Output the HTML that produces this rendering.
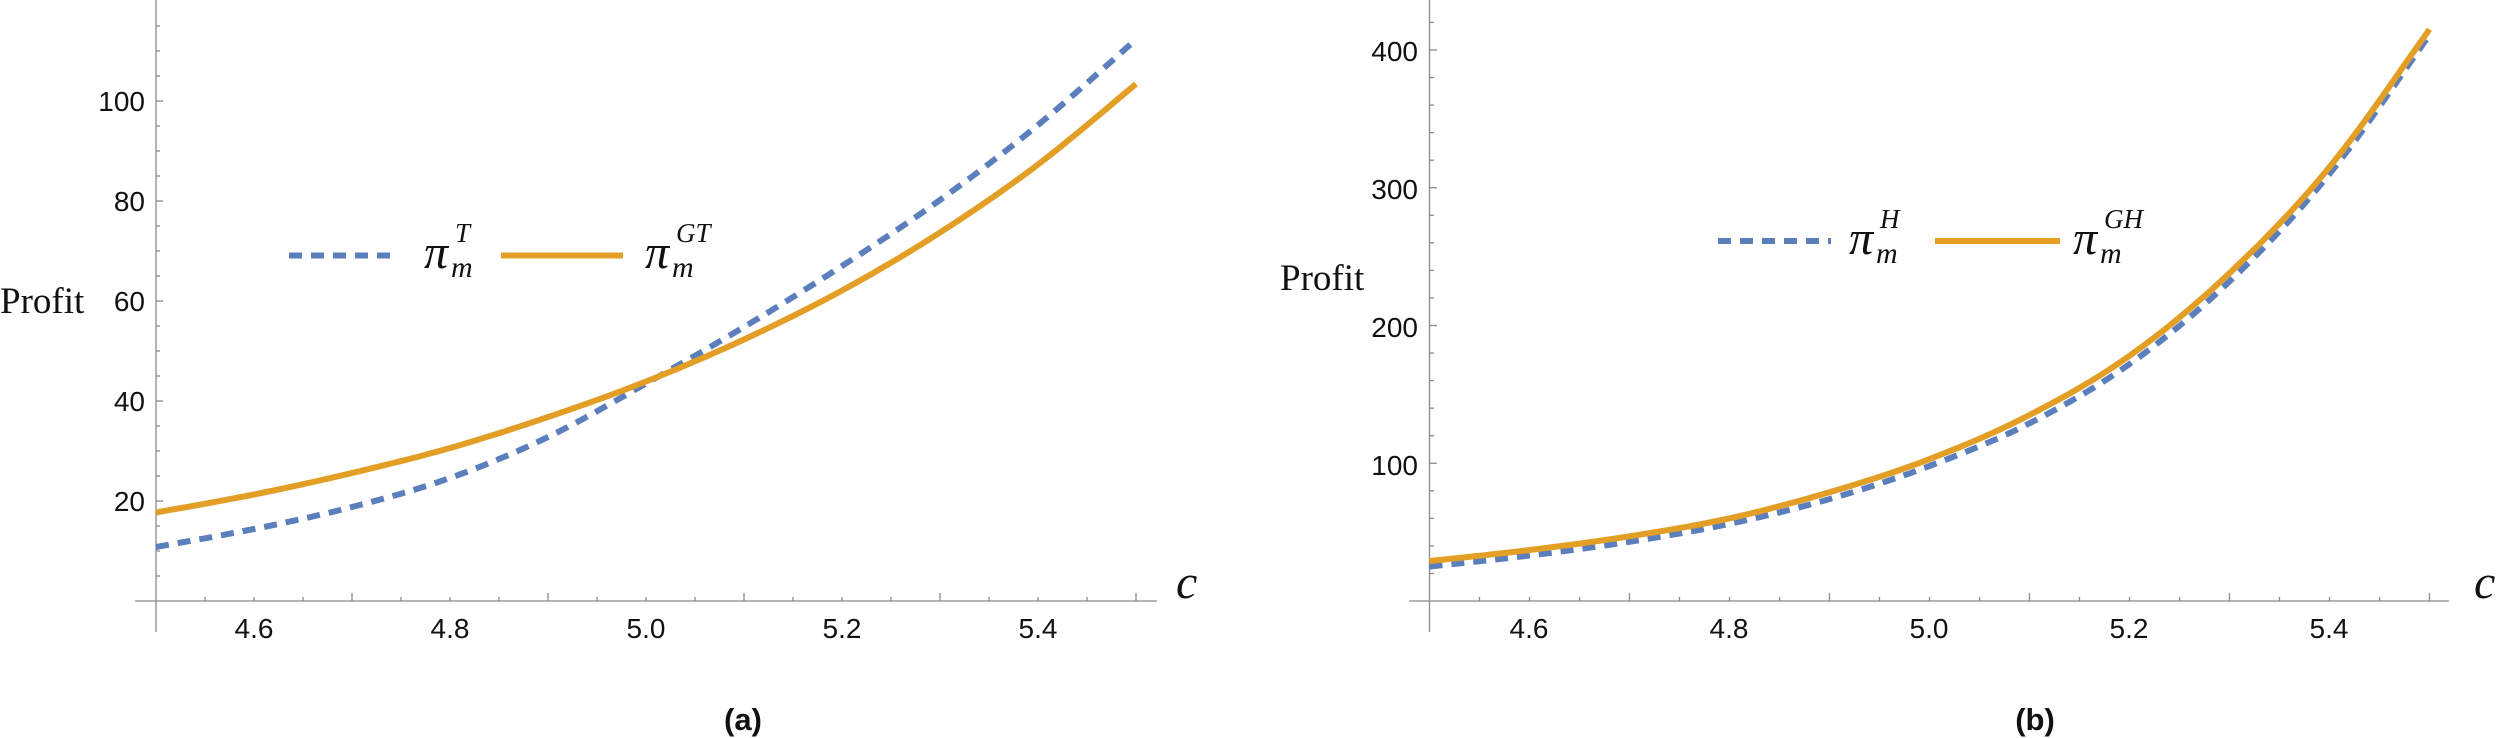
<!DOCTYPE html>
<html><head><meta charset="utf-8">
<style>
html,body{margin:0;padding:0;background:#fff;}
svg{display:block;}
.tk{font-family:"Liberation Sans",sans-serif;font-size:28px;fill:#111;}
.pf{font-family:"Liberation Serif",serif;font-size:37px;fill:#111;}
.pi{font-family:"Liberation Serif",serif;font-style:italic;fill:#111;}
.cap{font-family:"Liberation Sans",sans-serif;font-weight:bold;font-size:31px;fill:#111;}
</style></head>
<body>
<svg id="s" width="2500" height="738" viewBox="0 0 2500 738" xmlns="http://www.w3.org/2000/svg">
<g id="axes" stroke="#8a8a8a" stroke-width="1.3" fill="none"></g>
<g id="curves" fill="none"></g>
<g class="tk" text-anchor="end">
<text x="145" y="111">100</text><text x="145" y="211">80</text><text x="145" y="311">60</text>
<text x="145" y="411">40</text><text x="145" y="511">20</text>
<text x="1418" y="61">400</text><text x="1418" y="199">300</text><text x="1418" y="337">200</text>
<text x="1418" y="475">100</text>
</g>
<g class="tk" text-anchor="middle">
<text x="254" y="638">4.6</text><text x="450" y="638">4.8</text><text x="646" y="638">5.0</text>
<text x="842" y="638">5.2</text><text x="1038" y="638">5.4</text>
<text x="1529" y="638">4.6</text><text x="1729" y="638">4.8</text><text x="1929" y="638">5.0</text>
<text x="2129" y="638">5.2</text><text x="2329" y="638">5.4</text>
</g>
<text class="pf" x="0" y="313">Profit</text>
<text class="pf" x="1280" y="290">Profit</text>
<text class="pi" x="1176" y="598" font-size="48">c</text>
<text class="pi" x="2474" y="598" font-size="48">c</text>
<text class="cap" x="743" y="730" text-anchor="middle">(a)</text>
<text class="cap" x="2035" y="730" text-anchor="middle">(b)</text>
<line x1="289" y1="255.5" x2="398" y2="255.5" stroke="#5b7fbd" stroke-width="6" stroke-dasharray="13,9"/>
<line x1="501" y1="255.5" x2="623" y2="255.5" stroke="#e39e26" stroke-width="6"/>
<text class="pi" x="424" y="268" font-size="48">π</text>
<text class="pi" x="455" y="242" font-size="27">T</text>
<text class="pi" x="451" y="277" font-size="30">m</text>
<text class="pi" x="645" y="268" font-size="48">π</text>
<text class="pi" x="676" y="242" font-size="27">GT</text>
<text class="pi" x="672" y="277" font-size="30">m</text>
<line x1="1718" y1="241" x2="1831" y2="241" stroke="#5b7fbd" stroke-width="6" stroke-dasharray="13,9"/>
<line x1="1935" y1="241" x2="2060" y2="241" stroke="#e39e26" stroke-width="6"/>
<text class="pi" x="1849" y="254" font-size="48">π</text>
<text class="pi" x="1880" y="228" font-size="27">H</text>
<text class="pi" x="1876" y="263" font-size="30">m</text>
<text class="pi" x="2073" y="254" font-size="48">π</text>
<text class="pi" x="2104" y="228" font-size="27">GH</text>
<text class="pi" x="2100" y="263" font-size="30">m</text>
</svg>
<script>
(function(){
var NS="http://www.w3.org/2000/svg";
var ax=document.getElementById('axes'), cv=document.getElementById('curves');
function L(x1,y1,x2,y2){var l=document.createElementNS(NS,'line');l.setAttribute('x1',x1);l.setAttribute('y1',y1);l.setAttribute('x2',x2);l.setAttribute('y2',y2);ax.appendChild(l);}
L(156,0,156,632); L(135,601,1157,601);
for(var v=5;v<=115;v+=5){var y=601-5*v;L(156,y,v%20==0?163:160,y);}
for(var i=1;i<=20;i++){var x=156+49*i;L(x,601,x,(i%4==0)?593:597);}
L(1429.5,0,1429.5,632); L(1409,601,2449,601);
for(var v=20;v<=420;v+=20){var y=601-1.3775*v;L(1429.5,y,v%100==0?1437:1434,y);}
for(var i=1;i<=20;i++){var x=1429.5+50*i;L(x,601,x,(i%4==0)?593:597);}
function cr(pts){
 var out=[];
 for(var i=0;i<pts.length-1;i++){
  var p0=pts[Math.max(0,i-1)],p1=pts[i],p2=pts[i+1],p3=pts[Math.min(pts.length-1,i+2)];
  for(var t=0;t<1;t+=0.1){
   var t2=t*t,t3=t2*t;
   var f=function(a,b,c,d){return 0.5*((2*b)+(-a+c)*t+(2*a-5*b+4*c-d)*t2+(-a+3*b-3*c+d)*t3);};
   out.push([f(p0[0],p1[0],p2[0],p3[0]),f(p0[1],p1[1],p2[1],p3[1])]);
  }
 }
 out.push(pts[pts.length-1]);
 return 'M'+out.map(function(p){return p[0].toFixed(1)+','+p[1].toFixed(1);}).join(' L');
}
function P(d,col,dash){var p=document.createElementNS(NS,'path');p.setAttribute('d',d);p.setAttribute('stroke',col);p.setAttribute('stroke-width','6');if(dash)p.setAttribute('stroke-dasharray',dash);cv.appendChild(p);}
function pts(x0,sx,y0,sy,vals){return vals.map(function(v,i){return [x0+sx*i*0.1, y0-sy*v];});}
var lo=[17.7,21.3,25.6,30.6,36.8,43.9,52.3,62.1,73.7,87.3,103.4];
var lb=[10.8,14.4,18.8,24.6,32.8,43.5,54.8,67.0,80.2,95.2,112.3];
var ro=[29,37,47,60,79,103,135,178,238,315,415];
var rb=[25,33,43,56,74,98,129,172,232,310,411];
P(cr(pts(156,980,601,5,lb)),'#5b7fbd','13,9');
P(cr(pts(156,980,601,5,lo)),'#e39e26');
P(cr(pts(1429.5,1000,601,1.3775,rb)),'#5b7fbd','13,9');
P(cr(pts(1429.5,1000,601,1.3775,ro)),'#e39e26');
})();
</script>
</body></html>
